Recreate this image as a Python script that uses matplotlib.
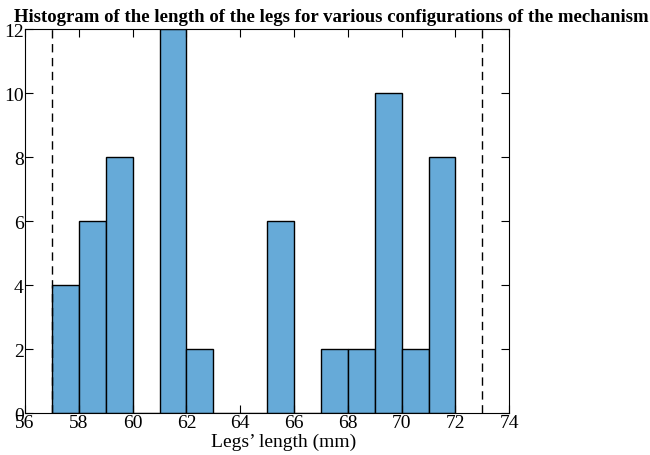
import numpy as np
import matplotlib
matplotlib.use("Agg")
import matplotlib.pyplot as plt

plt.rcParams["font.family"] = ["Liberation Serif", "DejaVu Serif"]

# histogram bins (mm) and counts
bin_edges = [57, 58, 59, 60, 61, 62, 63, 64, 65, 66, 67, 68, 69, 70, 71, 72]
counts = [4, 6, 8, 0, 12, 2, 0, 0, 6, 0, 2, 2, 10, 2, 8]
limits = [57, 73]

fig = plt.figure(figsize=(6.5, 4.56), dpi=100)
ax = fig.add_axes([0.0385, 0.092, 0.745, 0.842])

ax.hist(bin_edges[:-1], bins=bin_edges, weights=counts,
        color="#66aad8", edgecolor="black", linewidth=1.0)
for x in limits:
    ax.axvline(x, color="black", linestyle=(0, (6, 4)), linewidth=1.0)

ax.set_xlim(56, 74)
ax.set_ylim(0, 12)
ax.set_xticks(np.arange(56, 75, 2))
ax.set_yticks(np.arange(0, 13, 2))
ax.tick_params(direction="in", top=True, right=True, labelsize=14, length=6, pad=1)
ax.set_xlabel("Legs\u2019 length (mm)", fontsize=14)
ax.xaxis.set_label_coords(0.535, -0.052, transform=ax.transAxes)
ax.xaxis.label.set_va("top")

# title is centred on the figure, not on the axes
fig.text(0.51, 0.952, "Histogram of the length of the legs for various configurations of the mechanism",
         ha="center", va="baseline", fontsize=13.5, fontweight="bold")

fig.savefig("out.png", dpi=100)
